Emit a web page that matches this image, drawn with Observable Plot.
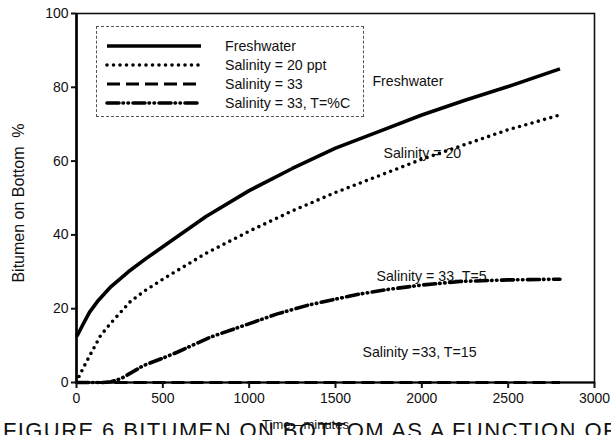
<!DOCTYPE html>
<html><head><meta charset="utf-8">
<script src="https://cdn.jsdelivr.net/npm/d3@7"></script>
<script src="https://cdn.jsdelivr.net/npm/@observablehq/plot@0.6"></script>
<style>
html,body{margin:0;padding:0;background:#fff;}
#wrap{position:relative;width:611px;height:435px;overflow:hidden;font-family:"Liberation Sans",Arial,sans-serif;}
#chart{position:absolute;left:0;top:0;}
#legend{position:absolute;left:96px;top:26px;width:268px;height:91px;border:1px dashed #555;background:#fff;box-sizing:border-box;}
.row{position:absolute;left:0;height:16px;display:flex;align-items:center;}
.row svg{margin-left:8px;}
.row span{margin-left:22px;font-size:14.2px;color:#111;}
#xlabel{position:absolute;left:0;width:611px;top:417px;text-align:center;font-size:13px;color:#111;}
#caption{position:absolute;left:3px;top:418px;font-size:22px;white-space:nowrap;color:#111;letter-spacing:1.4px;}
</style></head>
<body><div id="wrap"><div id="chart"></div><div id="legend"></div><div id="xlabel">Time—minutes</div><div id="caption">FIGURE 6 BITUMEN ON BOTTOM AS A FUNCTION OF</div></div>
<script>
// Data
const freshX = [0, 10, 35, 75, 122, 200, 300, 400, 500, 750, 1000, 1250, 1500, 1750, 2000, 2250, 2500, 2800];
const freshY = [12.5, 13.2, 15.5, 19, 22, 26, 30, 33.5, 36.8, 45, 52, 58, 63.5, 68, 72.5, 76.5, 80.2, 85];
const sal20X = [0, 17, 52, 93, 139, 197, 255, 313, 400, 500, 750, 1000, 1250, 1500, 1750, 2000, 2250, 2500, 2800];
const sal20Y = [0, 1.9, 5.1, 8.7, 12.7, 16, 19, 22, 25, 28, 35, 41, 46.5, 51.5, 56, 60.5, 64.5, 68.5, 72.5];
const sal33X = [0, 2800];
const sal33Y = [0, 0];
const salT5X = [0, 150, 200, 255, 300, 388, 500, 583, 776, 967, 1163, 1337, 1500, 1644, 1800, 2000, 2223, 2500, 2800];
const salT5Y = [0, 0, 0.2, 1, 2.2, 4.6, 6.6, 8.2, 12.3, 15.4, 18.6, 20.9, 22.6, 24, 25.2, 26.4, 27.4, 27.8, 28];

const seriesNames = ["Freshwater", "Salinity = 20 ppt", "Salinity = 33", "Salinity = 33, T=%C"];
const xTicks = [0, 500, 1000, 1500, 2000, 2500, 3000];
const yTicks = [0, 20, 40, 60, 80, 100];

const annoText = ["Freshwater", "Salinity = 20", "Salinity = 33, T=5", "Salinity =33, T=15"];
const annoX = [1714, 1778, 1737, 1656];
const annoY = [81.6, 62, 28.7, 8.1];

const styles = [
  {strokeWidth: 3.6, strokeDasharray: null, strokeLinecap: "butt"},
  {strokeWidth: 3.6, strokeDasharray: "0,6.5", strokeLinecap: "round"},
  {strokeWidth: 3.2, strokeDasharray: "13,6", strokeLinecap: "butt"},
  {strokeWidth: 3.6, strokeDasharray: "12,4,0.5,4.5,0.5,4.5", strokeLinecap: "round"}
];

const mk = (xs, ys) => xs.map((x, i) => ({x, y: ys[i]}));
const curves = [mk(freshX, freshY), mk(sal20X, sal20Y), mk(sal33X, sal33Y), mk(salT5X, salT5Y)];
const annos = annoText.map((t, i) => ({t, x: annoX[i], y: annoY[i]}));

const plot = Plot.plot({
  width: 611,
  height: 410,
  marginLeft: 76,
  marginRight: 17,
  marginTop: 13,
  marginBottom: 28,
  style: {fontFamily: "Liberation Sans, Arial, sans-serif", fontSize: "14px", color: "#111", background: "#fff"},
  x: {domain: [0, 3000], ticks: xTicks, tickFormat: d => String(d), label: null},
  y: {domain: [0, 100], ticks: yTicks, tickFormat: d => String(d), label: null},
  marks: [
    Plot.frame({stroke: "#111", strokeWidth: 1.6}),
    ...curves.map((c, i) => Plot.line(c, {x: "x", y: "y", stroke: "#000", ...styles[i]})),
    Plot.ruleX([0], {stroke: "#000", strokeWidth: 2.6}),
    Plot.ruleY([0], {stroke: "#000", strokeWidth: 2.2}),
    Plot.axisX({ticks: xTicks, tickSize: 6, tickPadding: 5, strokeWidth: 2, label: null, tickFormat: d => String(d), fontSize: 14}),
    Plot.axisY({ticks: yTicks, tickSize: 5, tickPadding: 3, strokeWidth: 2, label: null, tickFormat: d => String(d), fontSize: 14}),
    Plot.text(annos, {x: "x", y: "y", text: "t", textAnchor: "start", fontSize: 14.2, fill: "#111"})
  ]
});
document.getElementById("chart").appendChild(plot);

// y-axis title
const svg = d3.select(plot);
svg.append("text")
  .attr("transform", "translate(20,203) rotate(-90)")
  .attr("text-anchor", "middle")
  .attr("dominant-baseline", "middle")
  .attr("font-size", "16px")
  .attr("fill", "#111")
  .text("Bitumen on Bottom\u00a0\u00a0%");

// legend
const leg = document.getElementById("legend");
seriesNames.forEach((name, i) => {
  const row = document.createElement("div");
  row.className = "row";
  row.style.top = (11 + i * 18.9) + "px";
  const s = styles[i];
  row.innerHTML = `<svg width="98" height="10"><line x1="2" x2="96" y1="5" y2="5" stroke="#000" stroke-width="${s.strokeWidth}" ${s.strokeDasharray ? `stroke-dasharray="${s.strokeDasharray}"` : ""} stroke-linecap="${s.strokeLinecap}"/></svg><span>${name}</span>`;
  leg.appendChild(row);
});
</script></body></html>
